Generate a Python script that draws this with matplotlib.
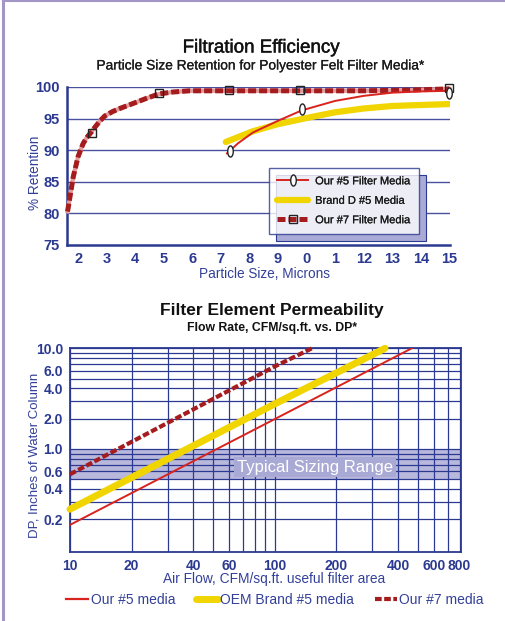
import matplotlib

matplotlib.use("Agg")
import matplotlib.pyplot as plt
import matplotlib.patheffects as pe
from matplotlib.lines import Line2D
from matplotlib.patches import Rectangle
from matplotlib.path import Path
from matplotlib.transforms import Affine2D
from matplotlib.ticker import FixedLocator, NullFormatter

plt.rcParams["font.family"] = ["Liberation Sans", "DejaVu Sans"]

NAVY = "#2b3990"
BLUE_TXT = "#33409a"
GRID_TOP = "#4a50a0"
RED = "#d8231f"
DARK_RED = "#a51c1f"
PINK = "#e39a9a"
YELLOW = "#f0d500"

# --- Filtration efficiency (top) ---
ret_x_ticks = [2, 3, 4, 5, 6, 7, 8, 9, 10, 11, 12, 13, 14, 15]
ret_x_labels = ["2", "3", "4", "5", "6", "7", "8", "9", "0", "1", "12", "13", "14", "15"]
ret_y_ticks = [75, 80, 85, 90, 95, 100]

our7_x = [1.63, 1.83, 2.0, 2.17, 2.3, 2.47, 2.6, 2.76, 2.93, 3.2, 3.46, 3.87, 4.39, 4.83, 5.3, 5.9, 7.3, 9.8,
          12.0, 13.5, 15.0]
our7_y = [80.3, 85.8, 89.0, 91.0, 92.0, 92.9, 93.7, 94.6, 95.4, 96.1, 96.6, 97.3, 98.2, 98.9, 99.2, 99.4, 99.4,
          99.4, 99.4, 99.5, 99.7]
our7_mx = [2.47, 4.83, 7.28, 9.78, 15.0]
our7_my = [92.8, 99.1, 99.5, 99.5, 99.8]

our5_x = [7.21, 7.6, 8.12, 8.97, 9.83, 11.0, 12.0, 13.0, 14.0, 15.0]
our5_y = [89.5, 91.1, 92.8, 94.6, 96.3, 97.8, 98.6, 99.1, 99.3, 99.4]
our5_mx = [7.33, 9.83, 15.0]
our5_my = [89.9, 96.5, 99.0]

brandd_x = [7.17, 8.12, 8.97, 10.0, 11.0, 12.0, 13.0, 15.0]
brandd_y = [91.3, 93.0, 94.1, 95.1, 96.0, 96.6, 97.0, 97.3]

# --- Permeability (bottom) ---
perm_x_ticks = [10, 20, 40, 60, 100, 200, 400, 600, 800]
perm_y_ticks = [0.2, 0.4, 0.6, 1.0, 2.0, 4.0, 6.0, 10.0]
perm_y_labels = ["0.2", "0.4", "0.6", "1.0", "2.0", "4.0", "6.0", "10.0"]

p_our5_x = [10, 100, 467]
p_our5_y = [0.176, 1.98, 10.0]
p_oem_x = [10, 100, 346]
p_oem_y = [0.252, 2.8, 10.0]
p_our7_x = [10, 100, 152]
p_our7_y = [0.56, 6.6, 10.0]

sizing_range = (0.5, 1.0)

ellipse = Path.unit_circle().transformed(Affine2D().scale(0.5, 1.0))

fig = plt.figure(figsize=(5.06, 6.21), dpi=100)
W, H = 506, 621


def px_box(left, top, right, bottom):
    return [left / W, 1 - bottom / H, (right - left) / W, (bottom - top) / H]


def heavier(color, width):
    return [pe.withStroke(linewidth=width, foreground=color)]


# ---------------- top chart ----------------
ax1 = fig.add_axes(px_box(66.7, 87, 450, 245))
ax1.set_xlim(1.6, 15.02)
ax1.set_ylim(75, 100)
for y in ret_y_ticks[1:]:
    ax1.axhline(y, color=GRID_TOP, lw=1.0, zorder=1)
for side in ("top", "right"):
    ax1.spines[side].set_visible(False)
for side in ("left", "bottom"):
    ax1.spines[side].set_color(NAVY)
    ax1.spines[side].set_linewidth(1.8)
ax1.set_xticks(ret_x_ticks, ret_x_labels)
ax1.set_yticks(ret_y_ticks)
ax1.tick_params(length=0, labelsize=10.5, labelcolor=NAVY, pad=5)
for lab in ax1.get_xticklabels() + ax1.get_yticklabels():
    lab.set_fontweight("bold")

ax1.plot(brandd_x, brandd_y, color=YELLOW, lw=4.5, solid_capstyle="round", zorder=2)
ax1.plot(our7_x, our7_y, color=PINK, lw=3.0, zorder=3, clip_on=False)
ax1.plot(our7_x, our7_y, color=DARK_RED, lw=3.6, dashes=(1.6, 0.6), zorder=3, clip_on=False)
ax1.plot(our7_mx, our7_my, ls="none", marker="s", ms=6, mfc="none", mec="#222222", mew=1.0, zorder=4, clip_on=False)
ax1.plot(our5_x, our5_y, color=RED, lw=1.4, zorder=3)
ax1.plot(our5_mx, our5_my, ls="none", marker=ellipse, ms=8, mfc="white", mec="#222222", mew=1.0, zorder=4, clip_on=False)

h5 = Line2D([], [], color=RED, lw=1.4, marker=ellipse, ms=8, mfc="white", mec="#222222", mew=1.0)
hd = Line2D([], [], color=YELLOW, lw=4.5, solid_capstyle="round")
h7 = Line2D([], [], color=DARK_RED, lw=3.6, dashes=(1.6, 0.6), marker="s", ms=6, mfc="none", mec="#222222")
leg = ax1.legend([h5, hd, h7], ["Our #5 Filter Media", "Brand D #5 Media", "Our #7 Filter Media"],
                 loc="upper left", bbox_to_anchor=((269 - 66.7) / (450 - 66.7), (245 - 168) / (245 - 87)),
                 fontsize=8, frameon=True, fancybox=False, edgecolor=NAVY, handlelength=2.8,
                 borderpad=0.75, labelspacing=0.85, handletextpad=0.6, borderaxespad=0)
leg.get_frame().set_linewidth(1.0)
leg.set_zorder(6)
for t in leg.get_texts():
    t.set_color("#1a1a1a")
    t.set_path_effects(heavier("#1a1a1a", 0.15))

# ---------------- bottom chart ----------------
ax2 = fig.add_axes(px_box(70, 348.3, 460.7, 552.3))
ax2.set_xscale("log")
ax2.set_yscale("log")
ax2.set_xlim(10, 810)
ax2.set_ylim(0.094, 10)
ax2.axhspan(*sizing_range, color="#b8b8dd", lw=0, zorder=0.5)
ax2.xaxis.set_minor_locator(FixedLocator([20, 30, 40, 50, 60, 70, 80, 90, 200, 300, 400, 500, 600, 700, 800]))
ax2.yaxis.set_minor_locator(FixedLocator([0.2, 0.3, 0.4, 0.5, 0.6, 0.7, 0.8, 0.9, 2, 3, 4, 5, 6, 7, 8, 9]))
ax2.set_xticks(perm_x_ticks, [str(v) for v in perm_x_ticks])
ax2.set_yticks(perm_y_ticks, perm_y_labels)
ax2.xaxis.set_minor_formatter(NullFormatter())
ax2.yaxis.set_minor_formatter(NullFormatter())
ax2.grid(True, which="both", color=NAVY, lw=0.9)
ax2.tick_params(which="both", length=0, labelsize=10, labelcolor=NAVY, pad=5)
for lab in ax2.get_xticklabels() + ax2.get_yticklabels():
    lab.set_fontweight("bold")
for s in ax2.spines.values():
    s.set_color(NAVY)
    s.set_linewidth(1.3)

ax2.plot(p_our5_x, p_our5_y, color=RED, lw=1.4, zorder=3)
ax2.plot(p_oem_x, p_oem_y, color=YELLOW, lw=5.0, solid_capstyle="round", zorder=3, clip_on=False)
ax2.plot(p_our7_x, p_our7_y, color=DARK_RED, lw=3.0, dashes=(1.6, 0.6), zorder=3, clip_on=False)
ax2.text(157, 0.66, "Typical Sizing Range", color="white", fontsize=12, ha="center", va="center", zorder=5,
         bbox=dict(boxstyle="square,pad=0.17", fc="#a9a9d5", ec="none"))

# ---------------- texts ----------------
fig.text(261 / W, 1 - 48 / H, "Filtration Efficiency", ha="center", va="center", fontsize=13.5, color="#111111",
         path_effects=heavier("#111111", 0.3))
fig.text(261 / W, 1 - 65.5 / H, "Particle Size Retention for Polyester Felt Filter Media*", ha="center",
         va="center", fontsize=9.9, color="#1a1a1a", path_effects=heavier("#1a1a1a", 0.15))
fig.text(265 / W, 1 - 274 / H, "Particle Size, Microns", ha="center", va="center", fontsize=9.8, color=BLUE_TXT)
fig.text(35 / W, 1 - 173 / H, "% Retention", ha="center", va="center", rotation=90, fontsize=9.8, color=BLUE_TXT)

fig.text(272 / W, 1 - 310 / H, "Filter Element Permeability", ha="center", va="center", fontsize=12.5,
         fontweight="bold", color="#111111")
fig.text(272 / W, 1 - 327.5 / H, "Flow Rate, CFM/sq.ft. vs. DP*", ha="center", va="center", fontsize=8.8,
         fontweight="bold", color="#111111")
fig.text(274 / W, 1 - 579.5 / H, "Air Flow, CFM/sq.ft. useful filter area", ha="center", va="center",
         fontsize=9.9, color=BLUE_TXT)
fig.text(35 / W, 1 - 455 / H, "DP, Inches of Water Column", ha="center", va="center", rotation=90,
         fontsize=9.5, color=BLUE_TXT)

b5 = Line2D([], [], color=RED, lw=1.6)
bo = Line2D([], [], color=YELLOW, lw=5.0, solid_capstyle="round")
b7 = Line2D([], [], color=DARK_RED, lw=3.0, dashes=(1.6, 0.6))
fig.legend([b5, bo, b7], ["Our #5 media", "OEM Brand #5 media", "Our #7 media"], loc="center",
           bbox_to_anchor=(275 / W, 1 - 600 / H), ncol=3, frameon=False, fontsize=10, labelcolor=BLUE_TXT,
           handlelength=1.6, handletextpad=0.15, columnspacing=1.5)

# purple frame fragment
fig.add_artist(Line2D([3.5 / W, 3.5 / W], [0, 1 - 1 / H], color="#a396c6", lw=2.2))
fig.add_artist(Line2D([3.5 / W, 1], [1 - 1 / H, 1 - 1 / H], color="#a396c6", lw=1.5))

# legend shadow for top chart
fig.canvas.draw()
bb = leg.get_window_extent().transformed(ax1.transAxes.inverted())
dx = 7 / (450 - 66.7)
dy = 7 / (245 - 87)
ax1.add_patch(Rectangle((bb.x0 + dx, bb.y0 - dy), bb.width, bb.height, transform=ax1.transAxes,
                        fc="#a9abd6", ec=NAVY, lw=0.8, zorder=5, clip_on=False))

fig.savefig("out.png", dpi=100)
